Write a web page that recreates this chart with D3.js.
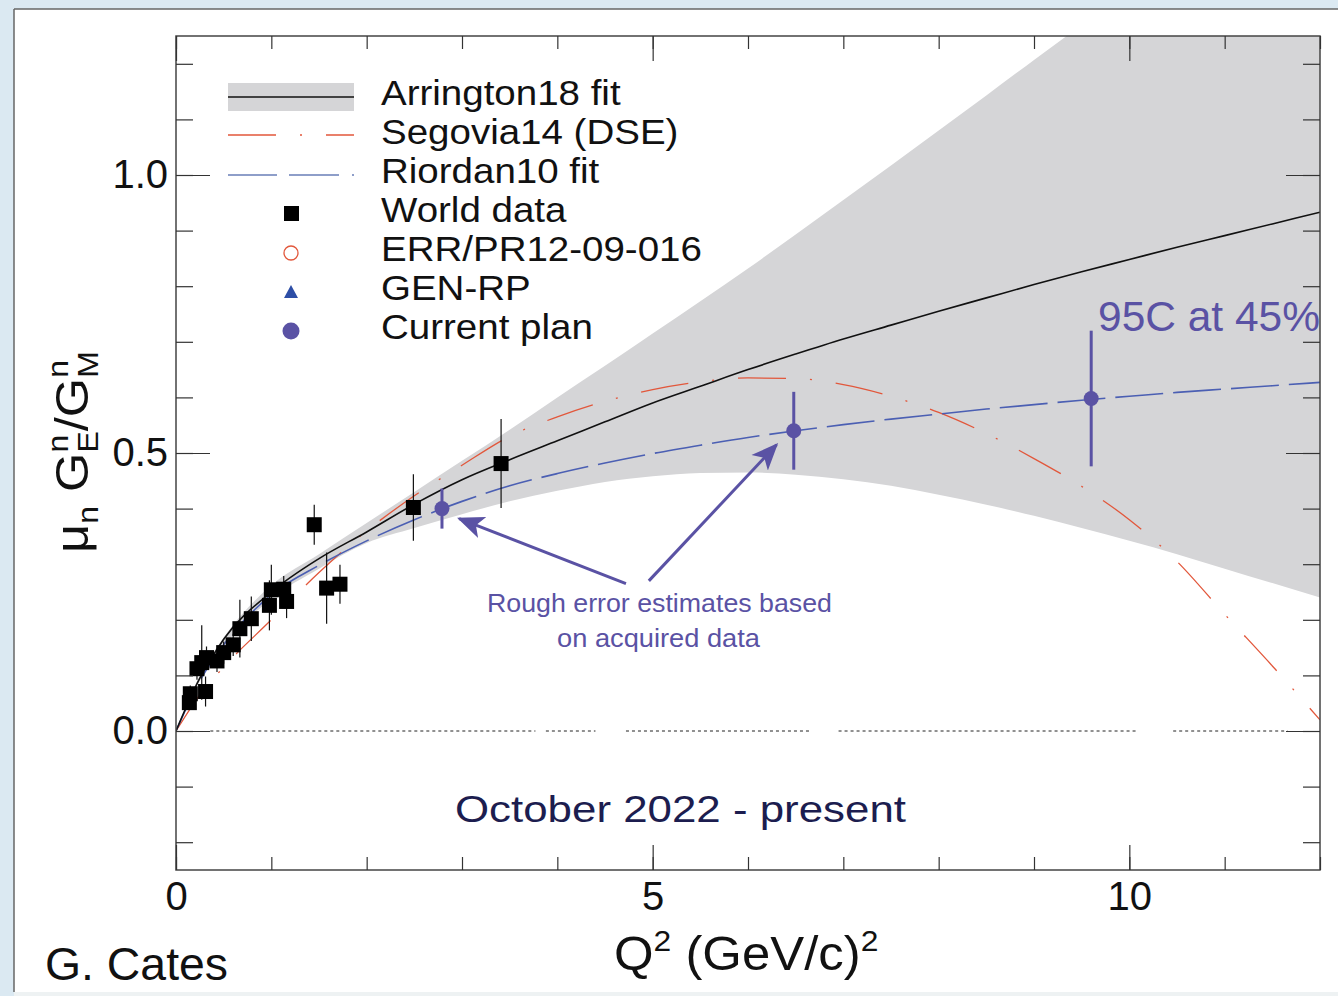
<html>
<head>
<script src="https://d3js.org/d3.v7.min.js"></script>
<style>
body { margin: 0; background: #dbe9f2; }
text { font-family: "Liberation Sans", Arial, sans-serif; }
</style>
</head>
<body>
<script>

// ---- data ----
var fitQ = [0, 0.25, 0.5, 1, 1.5, 2, 2.5, 3, 3.5, 4, 4.5, 5, 5.5, 6, 6.5, 7, 7.5, 8, 8.5, 9, 9.5, 10, 10.5, 11, 11.5, 12];
var arringtonFit  = [0, 0.095, 0.165, 0.25, 0.31, 0.358, 0.408, 0.452, 0.488, 0.522, 0.556, 0.59, 0.62, 0.65, 0.678, 0.705, 0.73, 0.755, 0.779, 0.803, 0.826, 0.848, 0.87, 0.891, 0.912, 0.933];
var arringtonLow  = [0, 0.09, 0.152, 0.238, 0.292, 0.338, 0.365, 0.39, 0.413, 0.432, 0.448, 0.458, 0.464, 0.465, 0.461, 0.453, 0.441, 0.425, 0.407, 0.387, 0.365, 0.342, 0.318, 0.292, 0.266, 0.24];
var arringtonHigh = [0, 0.1, 0.168, 0.262, 0.318, 0.374, 0.43, 0.486, 0.542, 0.6, 0.657, 0.715, 0.773, 0.832, 0.893, 0.955, 1.017, 1.08, 1.143, 1.207, 1.27, 1.335, 1.4, 1.465, 1.53, 1.595];
var segoviaDSE    = [0, 0.065, 0.115, 0.2, 0.285, 0.36, 0.423, 0.478, 0.53, 0.565, 0.593, 0.614, 0.628, 0.635, 0.634, 0.623, 0.602, 0.573, 0.535, 0.49, 0.44, 0.38, 0.305, 0.21, 0.117, 0.02];
var riordanFit    = [0, 0.09, 0.155, 0.245, 0.298, 0.342, 0.38, 0.413, 0.441, 0.463, 0.482, 0.499, 0.514, 0.528, 0.54, 0.551, 0.561, 0.57, 0.579, 0.587, 0.595, 0.602, 0.609, 0.615, 0.621, 0.627];

var worldQ   = [0.14, 0.15, 0.22, 0.27, 0.31, 0.32, 0.43, 0.50, 0.60, 0.67, 0.79, 0.98, 1.00, 1.13, 1.16, 1.45, 1.58, 1.72, 2.49, 3.41];
var worldV   = [0.051, 0.067, 0.112, 0.123, 0.071, 0.132, 0.126, 0.141, 0.155, 0.184, 0.202, 0.226, 0.254, 0.255, 0.233, 0.371, 0.257, 0.264, 0.402, 0.481];
var worldErr = [0.012, 0.015, 0.02, 0.067, 0.027, 0.02, 0.02, 0.02, 0.02, 0.052, 0.04, 0.045, 0.045, 0.024, 0.03, 0.036, 0.064, 0.035, 0.06, 0.08];

var planQ   = [2.79, 6.48, 9.6];
var planV   = [0.40, 0.54, 0.598];
var planErr = [0.036, 0.07, 0.122];

var xMinorTicks = [0, 1, 2, 3, 4, 5, 6, 7, 8, 9, 10, 11, 12];
var xMajorTicks = [0, 5, 10];
var yMinorTicks = [-0.2, -0.1, 0, 0.1, 0.2, 0.3, 0.4, 0.5, 0.6, 0.7, 0.8, 0.9, 1.0, 1.1, 1.2];
var yMajorTicks = [0, 0.5, 1.0];

var zeroLineSegments = [[0.36, 3.77], [3.88, 4.4], [4.72, 6.66], [6.95, 10.07], [10.46, 11.66]];

var legendLabels = ["Arrington18 fit", "Segovia14 (DSE)", "Riordan10 fit", "World data", "ERR/PR12-09-016", "GEN-RP", "Current plan"];

// arrows from the note to the points, in data units [q1, v1, q2, v2]
var noteArrows = [[4.72, 0.265, 2.97, 0.382], [4.96, 0.27, 6.3, 0.515]];

var purple = "#5a52a4";

var margin = {top: 36, right: 18, bottom: 126, left: 176},
    width = 1144,
    height = 834;

var x = d3.scaleLinear().domain([0, 12]).range([0, width]);
var y = d3.scaleLinear().domain([-0.25, 1.25]).range([height, 0]);

var root = d3.select("body").append("svg")
    .attr("width", 1338)
    .attr("height", 996);

// slide background
root.append("rect").attr("width", 1338).attr("height", 996).attr("fill", "#dbe9f2");
root.append("rect").attr("x", 14).attr("y", 9).attr("width", 1324).attr("height", 983).attr("fill", "white");
root.append("line").attr("x1", 14).attr("x2", 14).attr("y1", 9).attr("y2", 992).attr("stroke", "#666").attr("stroke-width", 1.5);
root.append("line").attr("x1", 14).attr("x2", 1338).attr("y1", 9).attr("y2", 9).attr("stroke", "#666").attr("stroke-width", 1.5);
root.append("rect").attr("x", 14).attr("y", 992).attr("width", 1324).attr("height", 4).attr("fill", "#eef2f3");

var defs = root.append("defs");
defs.append("clipPath").attr("id", "plotclip")
  .append("rect").attr("width", width).attr("height", height);
defs.append("marker")
    .attr("id", "head")
    .attr("viewBox", "0 0 12 10")
    .attr("refX", 11).attr("refY", 5)
    .attr("markerWidth", 9).attr("markerHeight", 8)
    .attr("markerUnits", "strokeWidth")
    .attr("orient", "auto")
  .append("path")
    .attr("d", "M0,0 L12,5 L0,10 L3,5 Z")
    .attr("fill", purple);

var svg = root.append("g")
    .attr("transform", "translate(" + margin.left + "," + margin.top + ")");

var plot = svg.append("g").attr("clip-path", "url(#plotclip)");

function pts(vals) { return fitQ.map(function(q, i) { return [q, vals[i]]; }); }

// error band of the Arrington fit
var band = d3.area()
    .x(function(d, i) { return x(fitQ[i]); })
    .y0(function(d, i) { return y(arringtonLow[i]); })
    .y1(function(d, i) { return y(arringtonHigh[i]); })
    .curve(d3.curveMonotoneX);
plot.append("path").attr("d", band(fitQ)).attr("fill", "#d5d5d7");

// zero line
zeroLineSegments.forEach(function(s) {
  plot.append("line")
      .attr("x1", x(s[0])).attr("x2", x(s[1]))
      .attr("y1", y(0)).attr("y2", y(0))
      .attr("stroke", "#222").attr("stroke-width", 1).attr("stroke-dasharray", "3,3");
});

var line = d3.line()
    .x(function(d) { return x(d[0]); })
    .y(function(d) { return y(d[1]); })
    .curve(d3.curveMonotoneX);

plot.append("path").attr("d", line(pts(segoviaDSE)))
    .attr("fill", "none").attr("stroke", "#e2573b").attr("stroke-width", 1.3)
    .attr("stroke-dasharray", "48,24,2,24");
plot.append("path").attr("d", line(pts(riordanFit)))
    .attr("fill", "none").attr("stroke", "#4b5fb3").attr("stroke-width", 1.6)
    .attr("stroke-dasharray", "48,10");
plot.append("path").attr("d", line(pts(arringtonFit)))
    .attr("fill", "none").attr("stroke", "#111").attr("stroke-width", 1.6);

// world data
var world = worldQ.map(function(q, i) { return {q: q, v: worldV[i], e: worldErr[i]}; });
plot.selectAll(".werr").data(world).enter().append("line")
    .attr("x1", function(d) { return x(d.q); }).attr("x2", function(d) { return x(d.q); })
    .attr("y1", function(d) { return y(d.v - d.e); }).attr("y2", function(d) { return y(d.v + d.e); })
    .attr("stroke", "#111").attr("stroke-width", 1.2);
plot.selectAll(".wpt").data(world).enter().append("rect")
    .attr("x", function(d) { return x(d.q) - 7.5; })
    .attr("y", function(d) { return y(d.v) - 7.5; })
    .attr("width", 15).attr("height", 15)
    .attr("fill", "#000");

// current plan
var plan = planQ.map(function(q, i) { return {q: q, v: planV[i], e: planErr[i]}; });
plot.selectAll(".perr").data(plan).enter().append("line")
    .attr("x1", function(d) { return x(d.q); }).attr("x2", function(d) { return x(d.q); })
    .attr("y1", function(d) { return y(d.v - d.e); }).attr("y2", function(d) { return y(d.v + d.e); })
    .attr("stroke", purple).attr("stroke-width", 3);
plot.selectAll(".ppt").data(plan).enter().append("circle")
    .attr("cx", function(d) { return x(d.q); })
    .attr("cy", function(d) { return y(d.v); })
    .attr("r", 7.5)
    .attr("fill", purple);

// arrows
noteArrows.forEach(function(a) {
  svg.append("line")
      .attr("x1", x(a[0])).attr("y1", y(a[1]))
      .attr("x2", x(a[2])).attr("y2", y(a[3]))
      .attr("stroke", purple).attr("stroke-width", 3)
      .attr("marker-end", "url(#head)");
});

// frame + ticks
svg.append("rect").attr("width", width).attr("height", height)
    .attr("fill", "none").attr("stroke", "#444").attr("stroke-width", 1.5);

function ticks(axis, tr) {
  var g = svg.append("g").attr("transform", tr || null).call(axis);
  g.select(".domain").remove();
  g.selectAll("line").attr("stroke", "#333").attr("stroke-width", 1.2);
  return g;
}
ticks(d3.axisRight(y).tickValues(yMinorTicks).tickSize(17).tickFormat(""));
ticks(d3.axisRight(y).tickValues(yMajorTicks).tickSize(34).tickFormat(""));
ticks(d3.axisLeft(y).tickValues(yMinorTicks).tickSize(17).tickFormat(""), "translate(" + width + ",0)");
ticks(d3.axisLeft(y).tickValues(yMajorTicks).tickSize(34).tickFormat(""), "translate(" + width + ",0)");
ticks(d3.axisTop(x).tickValues(xMinorTicks).tickSize(13).tickFormat(""), "translate(0," + height + ")");
ticks(d3.axisTop(x).tickValues(xMajorTicks).tickSize(25).tickFormat(""), "translate(0," + height + ")");
ticks(d3.axisBottom(x).tickValues(xMinorTicks).tickSize(13).tickFormat(""));
ticks(d3.axisBottom(x).tickValues(xMajorTicks).tickSize(25).tickFormat(""));

var yl = svg.append("g")
    .call(d3.axisLeft(y).tickValues(yMajorTicks).tickSize(0).tickPadding(8).tickFormat(d3.format(".1f")));
yl.select(".domain").remove();
yl.selectAll("text").attr("font-size", 40).attr("font-family", "Liberation Sans, Arial").attr("fill", "#111");

var xl = svg.append("g").attr("transform", "translate(0," + height + ")")
    .call(d3.axisBottom(x).tickValues(xMajorTicks).tickSize(0).tickPadding(12));
xl.select(".domain").remove();
xl.selectAll("text").attr("font-size", 40).attr("font-family", "Liberation Sans, Arial").attr("fill", "#111");

// axis titles
var xt = root.append("text").attr("x", 614).attr("y", 970).attr("font-size", 48).attr("fill", "#111")
    .attr("transform", "translate(614,0) scale(1.06,1) translate(-614,0)");
xt.append("tspan").text("Q");
xt.append("tspan").attr("font-size", 30).attr("dy", -19).text("2");
xt.append("tspan").attr("dy", 19).text(" (GeV/c)");
xt.append("tspan").attr("font-size", 30).attr("dy", -19).text("2");

var yt = root.append("text").attr("transform", "translate(88,452) rotate(-90) scale(1.1,1)")
    .attr("text-anchor", "middle").attr("font-size", 46).attr("fill", "#111");
yt.append("tspan").text("\u03bc");
yt.append("tspan").attr("font-size", 29).attr("dy", 10).text("n");
yt.append("tspan").attr("dy", -10).text(" G");
yt.append("tspan").attr("font-size", 29).attr("dy", -20).text("n");
yt.append("tspan").attr("font-size", 29).attr("dx", -16).attr("dy", 30).text("E");
yt.append("tspan").attr("dy", -10).text("/G");
yt.append("tspan").attr("font-size", 29).attr("dy", -20).text("n");
yt.append("tspan").attr("font-size", 29).attr("dx", -16).attr("dy", 30).text("M");

// legend
var legBase = [105, 144, 183, 222, 261, 300, 339];
legendLabels.forEach(function(t, i) {
  root.append("text")
      .attr("transform", "translate(381," + legBase[i] + ") scale(1.1,1)")
      .attr("font-size", 35).attr("fill", "#111").text(t);
});
root.append("rect").attr("x", 228).attr("y", 83).attr("width", 126).attr("height", 28).attr("fill", "#d5d5d7");
root.append("line").attr("x1", 228).attr("x2", 354).attr("y1", 97).attr("y2", 97).attr("stroke", "#111").attr("stroke-width", 1.5);
root.append("line").attr("x1", 228).attr("x2", 354).attr("y1", 135).attr("y2", 135)
    .attr("stroke", "#e2573b").attr("stroke-width", 1.3).attr("stroke-dasharray", "48,24,2,24");
root.append("line").attr("x1", 228).attr("x2", 354).attr("y1", 175).attr("y2", 175)
    .attr("stroke", "#6a7fb8").attr("stroke-width", 1.3).attr("stroke-dasharray", "49,12,50,13,2,13");
root.append("rect").attr("x", 284).attr("y", 206).attr("width", 15).attr("height", 15).attr("fill", "#000");
root.append("circle").attr("cx", 291).attr("cy", 253).attr("r", 7).attr("fill", "none").attr("stroke", "#e2573b").attr("stroke-width", 1.3);
root.append("path").attr("d", "M284,298 L298,298 L291,285 Z").attr("fill", "#2d4ea6");
root.append("circle").attr("cx", 291).attr("cy", 331).attr("r", 8.5).attr("fill", purple);

// notes
root.append("text").attr("x", 1098).attr("y", 331).attr("font-family", "Open Sans, sans-serif")
    .attr("font-size", 42).attr("fill", purple).attr("textLength", 222).attr("lengthAdjust", "spacingAndGlyphs")
    .text("95C at 45%");
root.append("text").attr("x", 487).attr("y", 612).attr("font-family", "Open Sans, sans-serif")
    .attr("font-size", 26).attr("fill", purple).attr("textLength", 345).attr("lengthAdjust", "spacingAndGlyphs")
    .text("Rough error estimates based");
root.append("text").attr("x", 557).attr("y", 647).attr("font-family", "Open Sans, sans-serif")
    .attr("font-size", 26).attr("fill", purple).attr("textLength", 203).attr("lengthAdjust", "spacingAndGlyphs")
    .text("on acquired data");
root.append("text").attr("x", 455).attr("y", 822).attr("font-family", "'Comic Sans MS', 'DejaVu Sans', sans-serif")
    .attr("font-size", 36).attr("fill", "#1c1d4f").attr("textLength", 451).attr("lengthAdjust", "spacingAndGlyphs")
    .text("October 2022 - present");
root.append("text").attr("x", 45).attr("y", 980).attr("font-family", "Lato, sans-serif")
    .attr("font-size", 46).attr("fill", "#111").attr("textLength", 183).attr("lengthAdjust", "spacingAndGlyphs")
    .text("G. Cates");

</script>
</body>
</html>
